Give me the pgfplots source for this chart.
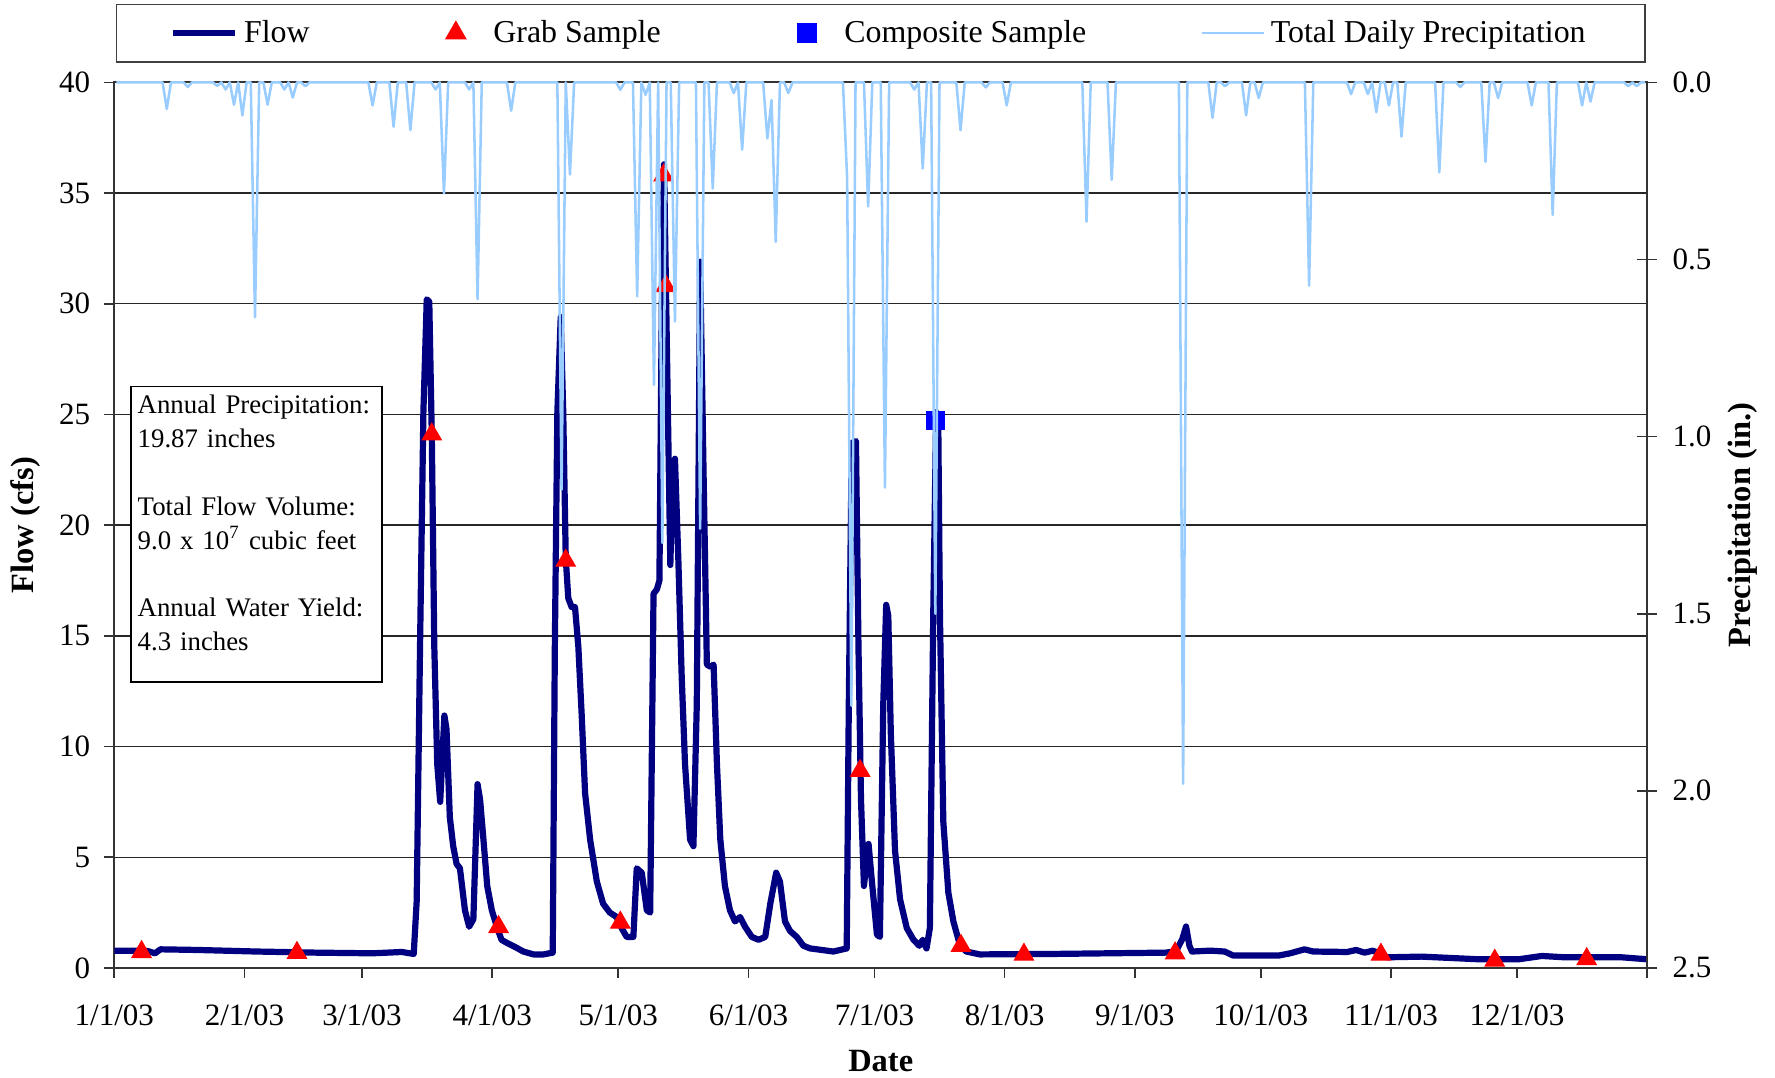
\documentclass[border=0pt]{standalone}
\usepackage{fontspec}
\setmainfont{Liberation Serif}
\usepackage{pgfplots}
\pgfplotsset{compat=1.18}
\usepackage{pgfplotstable}

\definecolor{flownavy}{RGB}{0,0,128}
\definecolor{precipblue}{RGB}{153,204,255}
\definecolor{grabred}{RGB}{255,0,0}
\definecolor{compblue}{RGB}{0,0,255}

\pgfplotsset{
  lineleg/.style={legend image code/.code={\draw[##1] (0pt,0pt) -- (22pt,0pt);}},
  markleg/.style={legend image code/.code={\path (0pt,0pt) (22pt,0pt); \draw[##1] plot coordinates {(11pt,0pt)};}},
}

% daily flow (cfs), x = days since 1/1/03
\pgfplotstableread{
day flow
0 0.78
4 0.78
8 0.76
9.7 0.66
11 0.84
20 0.81
34 0.74
48 0.69
61.5 0.66
68.5 0.72
71.3 0.63
72.0 3.0
72.8 14.5
73.6 25.1
74.4 30.2
75.0 30.1
75.6 24.1
76.2 14.5
76.9 9.2
77.6 7.5
78.6 11.4
79.1 10.8
79.9 6.8
80.7 5.5
81.5 4.7
82.3 4.5
83.5 2.6
84.5 1.86
85.5 2.2
86.5 8.3
87.1 7.6
87.9 5.8
88.8 3.7
89.9 2.6
91.1 1.86
92.2 1.27
93.4 1.14
95.4 0.95
97.4 0.74
99.8 0.61
102.2 0.61
104.4 0.69
104.9 14.5
105.5 25.1
106.3 29.4
106.9 25.1
107.5 18.5
108.1 16.7
108.9 16.3
109.7 16.3
110.5 14.5
111.3 11.4
112.1 7.9
113.3 5.8
114.9 3.9
116.4 2.9
118.0 2.5
119.6 2.3
120.8 1.8
122.0 1.4
123.6 1.4
124.4 4.5
125.6 4.3
126.8 2.6
127.6 2.5
128.4 16.9
129.2 17.1
129.8 17.5
130.4 30.5
130.9 36.3
131.6 27.8
132.4 18.2
133.0 22.5
133.5 23.0
134.3 18.5
135.1 13.2
135.9 9.2
137.1 5.8
137.9 5.5
138.7 11.9
139.5 31.9
140.3 22.5
141.1 13.7
142.0 13.6
142.7 13.7
143.5 9.2
144.3 5.8
145.4 3.7
146.6 2.6
147.8 2.1
149.0 2.3
150.2 1.86
151.8 1.4
153.4 1.27
155.0 1.4
156.2 2.9
157.6 4.3
158.5 3.9
159.7 2.1
160.9 1.67
162.5 1.4
164.1 1.0
165.7 0.88
168.9 0.8
171.2 0.74
174.4 0.88
174.9 12.0
175.6 23.7
176.6 23.8
177.2 14.5
177.8 7.6
178.5 3.7
179.6 5.6
180.4 3.9
181.6 1.5
182.3 1.4
183.1 11.9
183.8 16.4
184.3 15.9
184.9 10.6
185.9 5.3
187.1 3.1
188.7 1.8
190.3 1.27
191.7 1.0
192.5 1.27
193.4 0.88
194.2 1.8
195.0 15.9
195.7 25.1
196.2 24.6
196.6 15.9
197.4 6.6
198.6 3.4
199.8 2.1
201.4 1.0
202.9 0.74
206.1 0.61
223 0.63
250.3 0.69
252.8 0.75
254.3 1.3
255.2 1.87
256.0 1.0
256.6 0.74
261 0.78
264.4 0.74
266.4 0.56
277.3 0.56
280 0.66
283.4 0.84
285.5 0.74
293.6 0.72
295.7 0.81
297.7 0.69
299.7 0.78
303.1 0.48
311.3 0.51
324.9 0.39
334.4 0.39
339.9 0.54
345.3 0.48
358.9 0.48
365 0.39
}\flowdata

% total daily precipitation (in.)
\pgfplotstableread{
day precip
0.5 0
11.5 0
12.5 0.075
13.5 0
16.5 0
17.5 0.013
18.5 0
23.5 0
24.5 0.01
25.5 0
26.5 0.02
27.5 0
28.5 0.063
29.5 0
30.5 0.093
31.5 0
32.5 0
33.5 0.663
34.5 0
35.5 0
36.5 0.063
37.5 0
39.5 0
40.5 0.02
41.5 0
42.5 0.043
43.5 0
44.5 0
45.5 0.011
46.5 0
60.5 0
61.5 0.065
62.5 0
65.5 0
66.5 0.125
67.5 0
69.5 0
70.5 0.135
71.5 0
75.5 0
76.5 0.02
77.5 0
78.5 0.313
79.5 0
83.5 0
84.5 0.02
85.5 0
86.5 0.612
87.5 0
93.5 0
94.5 0.08
95.5 0
105.5 0
106.5 1.15
107.5 0
108.5 0.26
109.5 0
119.5 0
120.5 0.021
121.5 0
123.5 0
124.5 0.604
125.5 0
126.5 0.035
127.5 0
128.5 0.854
129.5 0
130.5 1.30
131.5 0
132.5 0
133.5 0.675
134.5 0
138.5 0
139.5 1.26
140.5 0
141.5 0
142.5 0.30
143.5 0
146.5 0
147.5 0.03
148.5 0
149.5 0.19
150.5 0
154.5 0
155.5 0.158
156.5 0.05
157.5 0.45
158.5 0
159.5 0
160.5 0.03
161.5 0
173.5 0
174.5 0.27
175.5 1.76
176.5 0
178.5 0
179.5 0.35
180.5 0
182.5 0
183.5 1.144
184.5 0
189.5 0
190.5 0.02
191.5 0
192.5 0.243
193.5 0
194.5 0
195.5 1.50
196.5 0
200.5 0
201.5 0.135
202.5 0
206.5 0
207.5 0.014
208.5 0
211.5 0
212.5 0.065
213.5 0
230.5 0
231.5 0.393
232.5 0
236.5 0
237.5 0.275
238.5 0
253.5 0
254.5 1.98
255.5 0
260.5 0
261.5 0.10
262.5 0
263.5 0
264.5 0.011
265.5 0
268.5 0
269.5 0.093
270.5 0
271.5 0
272.5 0.044
273.5 0
283.5 0
284.5 0.574
285.5 0
293.5 0
294.5 0.033
295.5 0
297.5 0
298.5 0.033
299.5 0
300.5 0.084
301.5 0
302.5 0
303.5 0.065
304.5 0
305.5 0
306.5 0.153
307.5 0
314.5 0
315.5 0.254
316.5 0
319.5 0
320.5 0.013
321.5 0
325.5 0
326.5 0.224
327.5 0
328.5 0
329.5 0.044
330.5 0
336.5 0
337.5 0.065
338.5 0
341.5 0
342.5 0.374
343.5 0
348.5 0
349.5 0.065
350.5 0
351.5 0.054
352.5 0
359.5 0
360.5 0.011
361.5 0
362.5 0.011
363.5 0
364.5 0
}\precipdata

\pgfplotstableread{
day flow
6.5 0.72
43.5 0.68
75.6 24.1
91.5 1.85
107.5 18.4
120.5 2.05
130.8 35.8
131.3 30.8
177.6 8.9
201.6 1.0
216.6 0.6
252.6 0.66
301.6 0.6
328.7 0.33
350.6 0.4
}\grabdata

\pgfplotstableread{
day flow
195.6 24.72
}\compdata

\begin{document}
\begin{tikzpicture}
\useasboundingbox (0,0) rectangle (629pt,382pt);

\begin{axis}[
  at={(40.5pt,39pt)}, anchor=south west,
  scale only axis, width=543.2pt, height=313.8pt,
  xmin=0, xmax=365, ymin=0, ymax=40,
  xtick={0,31,59,90,120,151,181,212,243,273,304,334,365},
  xticklabels={1/1/03,2/1/03,3/1/03,4/1/03,5/1/03,6/1/03,7/1/03,8/1/03,9/1/03,10/1/03,11/1/03,12/1/03,{}},
  ytick={0,5,10,15,20,25,30,35,40},
  xtick pos=left, ytick pos=left,
  tick align=outside, major tick length=3.5pt,
  ymajorgrids, grid style={black!85, line width=0.5pt},
  axis line style={black!80, line width=0.7pt},
  tick style={black!80, line width=0.6pt},
  tick label style={font=\fontsize{11}{13}\selectfont},
  /pgf/number format/assume math mode=true,
  xticklabel style={yshift=-6pt},
  yticklabel style={xshift=-1.5pt},
  xlabel={Date}, ylabel={Flow (cfs)},
  every axis x label/.style={at={(axis description cs:0.5,-0.105)}, anchor=center, font=\fontsize{11.5}{13}\selectfont\bfseries},
  every axis y label/.style={at={(axis description cs:-0.058,0.5)}, rotate=90, anchor=center, font=\fontsize{11.5}{13}\selectfont\bfseries},
  legend columns=4,
  legend cell align=left,
  legend style={at={(axis description cs:0.5,1)}, anchor=south, yshift=7pt,
    draw=black!75, line width=0.6pt,
    font=\fontsize{11.3}{13}\selectfont,
    inner xsep=19pt, inner ysep=3.5pt,
    /tikz/every even column/.append style={column sep=38.5pt}},
]
\addplot[flownavy, line width=2.2pt, line join=round, lineleg]
  table[x=day, y=flow] {\flowdata};
\addlegendentry{Flow}
\addplot[only marks, mark=triangle*, mark size=3.9pt, color=grabred, markleg]
  table[x=day, y=flow] {\grabdata};
\addlegendentry{Grab Sample}
\addplot[only marks, mark=square*, mark size=3.2pt, color=compblue, markleg]
  table[x=day, y=flow] {\compdata};
\addlegendentry{Composite Sample}
\addlegendimage{precipblue, line width=0.9pt, lineleg}
\addlegendentry{Total Daily Precipitation}

\node[draw=black, line width=0.6pt, fill=white, align=left, anchor=north west,
  inner xsep=2.5pt, inner ysep=3pt, text width=84pt,
  font=\fontsize{9.5}{12}\selectfont] at (axis cs:3.7,26.3)
  {Annual Precipitation:\\19.87 inches\\[12pt]Total Flow Volume:\\9.0 x 10\textsuperscript{7} cubic feet\\[12pt]Annual Water Yield:\\4.3 inches\\[-4pt]\mbox{}};
\end{axis}

\begin{axis}[
  at={(40.5pt,39pt)}, anchor=south west,
  scale only axis, width=543.2pt, height=313.8pt,
  xmin=0, xmax=365, ymin=0, ymax=2.5, y dir=reverse,
  axis x line=none, axis y line*=right,
  ytick={0,0.5,1,1.5,2,2.5},
  tick align=center, major tick length=7pt,
  axis line style={black!80, line width=0.7pt},
  tick style={black!80, line width=0.6pt},
  tick label style={font=\fontsize{11}{13}\selectfont},
  /pgf/number format/assume math mode=true,
  yticklabel style={xshift=2pt, /pgf/number format/fixed, /pgf/number format/fixed zerofill, /pgf/number format/precision=1},
  ylabel={Precipitation (in.)},
  every axis y label/.style={at={(axis description cs:1.0626,0.5)}, rotate=90, anchor=center, font=\fontsize{11.5}{13}\selectfont\bfseries},
  clip=false,
]
\addplot[precipblue, line width=0.9pt, line join=round] table[x=day, y=precip] {\precipdata};
\end{axis}
\end{tikzpicture}
\end{document}
